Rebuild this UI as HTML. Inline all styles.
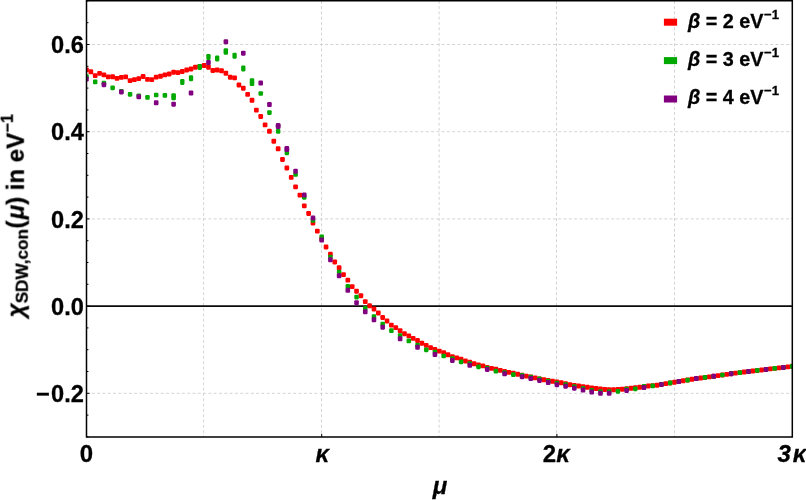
<!DOCTYPE html>
<html><head><meta charset="utf-8"><title>chart</title>
<style>
html,body{margin:0;padding:0;background:#fff;}
body{width:806px;height:500px;position:relative;overflow:hidden;}
svg{display:block}
text{font-family:"Liberation Sans",sans-serif;}
</style></head><body>
<svg width="806" height="500" viewBox="0 0 806 500" style="position:absolute;left:0;top:0"><rect width="806" height="500" fill="#fff"/><defs><clipPath id="cp"><rect x="86.5" y="0.75" width="705.8" height="436.25"/></clipPath></defs><g stroke="#c9c9c9" stroke-width="0.8" stroke-dasharray="3 2.3" fill="none"><line x1="203.60" y1="0.75" x2="203.60" y2="437.0"/><line x1="321.50" y1="0.75" x2="321.50" y2="437.0"/><line x1="439.10" y1="0.75" x2="439.10" y2="437.0"/><line x1="556.50" y1="0.75" x2="556.50" y2="437.0"/><line x1="674.50" y1="0.75" x2="674.50" y2="437.0"/><line x1="86.5" y1="44.50" x2="792.3" y2="44.50"/><line x1="86.5" y1="131.70" x2="792.3" y2="131.70"/><line x1="86.5" y1="218.90" x2="792.3" y2="218.90"/><line x1="86.5" y1="393.30" x2="792.3" y2="393.30"/></g><line x1="86.5" y1="306.10" x2="792.3" y2="306.10" stroke="#0a0a0a" stroke-width="1.55"/><g fill="#ff0000" clip-path="url(#cp)"><rect x="84.15" y="67.45" width="4.7" height="4.9" rx="1.1"/><rect x="88.51" y="69.35" width="4.7" height="4.9" rx="1.1"/><rect x="92.86" y="73.15" width="4.7" height="4.9" rx="1.1"/><rect x="97.22" y="70.95" width="4.7" height="4.9" rx="1.1"/><rect x="101.57" y="72.45" width="4.7" height="4.9" rx="1.1"/><rect x="105.93" y="74.45" width="4.7" height="4.9" rx="1.1"/><rect x="110.28" y="74.35" width="4.7" height="4.9" rx="1.1"/><rect x="114.64" y="75.95" width="4.7" height="4.9" rx="1.1"/><rect x="118.99" y="74.95" width="4.7" height="4.9" rx="1.1"/><rect x="123.35" y="74.45" width="4.7" height="4.9" rx="1.1"/><rect x="127.71" y="78.15" width="4.7" height="4.9" rx="1.1"/><rect x="132.06" y="77.15" width="4.7" height="4.9" rx="1.1"/><rect x="136.42" y="76.15" width="4.7" height="4.9" rx="1.1"/><rect x="140.77" y="74.05" width="4.7" height="4.9" rx="1.1"/><rect x="145.13" y="76.95" width="4.7" height="4.9" rx="1.1"/><rect x="149.48" y="77.15" width="4.7" height="4.9" rx="1.1"/><rect x="153.84" y="74.65" width="4.7" height="4.9" rx="1.1"/><rect x="158.19" y="73.75" width="4.7" height="4.9" rx="1.1"/><rect x="162.55" y="72.45" width="4.7" height="4.9" rx="1.1"/><rect x="166.91" y="71.55" width="4.7" height="4.9" rx="1.1"/><rect x="171.26" y="69.75" width="4.7" height="4.9" rx="1.1"/><rect x="175.62" y="70.15" width="4.7" height="4.9" rx="1.1"/><rect x="179.97" y="69.05" width="4.7" height="4.9" rx="1.1"/><rect x="184.33" y="67.55" width="4.7" height="4.9" rx="1.1"/><rect x="188.68" y="66.55" width="4.7" height="4.9" rx="1.1"/><rect x="193.04" y="64.75" width="4.7" height="4.9" rx="1.1"/><rect x="197.39" y="64.05" width="4.7" height="4.9" rx="1.1"/><rect x="201.75" y="63.05" width="4.7" height="4.9" rx="1.1"/><rect x="206.11" y="64.75" width="4.7" height="4.9" rx="1.1"/><rect x="210.46" y="68.05" width="4.7" height="4.9" rx="1.1"/><rect x="214.82" y="67.55" width="4.7" height="4.9" rx="1.1"/><rect x="219.17" y="68.35" width="4.7" height="4.9" rx="1.1"/><rect x="223.53" y="70.75" width="4.7" height="4.9" rx="1.1"/><rect x="227.88" y="74.75" width="4.7" height="4.9" rx="1.1"/><rect x="232.24" y="75.45" width="4.7" height="4.9" rx="1.1"/><rect x="236.59" y="82.55" width="4.7" height="4.9" rx="1.1"/><rect x="240.95" y="85.75" width="4.7" height="4.9" rx="1.1"/><rect x="245.31" y="91.95" width="4.7" height="4.9" rx="1.1"/><rect x="249.66" y="97.85" width="4.7" height="4.9" rx="1.1"/><rect x="254.02" y="107.65" width="4.7" height="4.9" rx="1.1"/><rect x="258.37" y="114.05" width="4.7" height="4.9" rx="1.1"/><rect x="262.73" y="122.45" width="4.7" height="4.9" rx="1.1"/><rect x="267.08" y="128.85" width="4.7" height="4.9" rx="1.1"/><rect x="271.44" y="138.75" width="4.7" height="4.9" rx="1.1"/><rect x="275.79" y="146.35" width="4.7" height="4.9" rx="1.1"/><rect x="280.15" y="157.05" width="4.7" height="4.9" rx="1.1"/><rect x="284.51" y="165.55" width="4.7" height="4.9" rx="1.1"/><rect x="288.86" y="174.95" width="4.7" height="4.9" rx="1.1"/><rect x="293.22" y="184.45" width="4.7" height="4.9" rx="1.1"/><rect x="297.57" y="192.65" width="4.7" height="4.9" rx="1.1"/><rect x="301.93" y="203.45" width="4.7" height="4.9" rx="1.1"/><rect x="306.28" y="211.05" width="4.7" height="4.9" rx="1.1"/><rect x="310.64" y="220.55" width="4.7" height="4.9" rx="1.1"/><rect x="314.99" y="228.65" width="4.7" height="4.9" rx="1.1"/><rect x="319.35" y="236.55" width="4.7" height="4.9" rx="1.1"/><rect x="323.71" y="244.55" width="4.7" height="4.9" rx="1.1"/><rect x="328.06" y="251.85" width="4.7" height="4.9" rx="1.1"/><rect x="332.42" y="259.55" width="4.7" height="4.9" rx="1.1"/><rect x="336.77" y="265.35" width="4.7" height="4.9" rx="1.1"/><rect x="341.13" y="272.15" width="4.7" height="4.9" rx="1.1"/><rect x="345.48" y="277.65" width="4.7" height="4.9" rx="1.1"/><rect x="349.84" y="284.15" width="4.7" height="4.9" rx="1.1"/><rect x="354.19" y="288.75" width="4.7" height="4.9" rx="1.1"/><rect x="358.55" y="293.25" width="4.7" height="4.9" rx="1.1"/><rect x="362.91" y="299.15" width="4.7" height="4.9" rx="1.1"/><rect x="367.26" y="303.35" width="4.7" height="4.9" rx="1.1"/><rect x="371.62" y="306.55" width="4.7" height="4.9" rx="1.1"/><rect x="375.97" y="310.55" width="4.7" height="4.9" rx="1.1"/><rect x="380.33" y="315.05" width="4.7" height="4.9" rx="1.1"/><rect x="384.68" y="318.55" width="4.7" height="4.9" rx="1.1"/><rect x="389.04" y="322.65" width="4.7" height="4.9" rx="1.1"/><rect x="393.39" y="325.15" width="4.7" height="4.9" rx="1.1"/><rect x="397.75" y="328.25" width="4.7" height="4.9" rx="1.1"/><rect x="402.11" y="331.25" width="4.7" height="4.9" rx="1.1"/><rect x="406.46" y="333.45" width="4.7" height="4.9" rx="1.1"/><rect x="410.82" y="335.95" width="4.7" height="4.9" rx="1.1"/><rect x="415.17" y="338.05" width="4.7" height="4.9" rx="1.1"/><rect x="419.53" y="340.75" width="4.7" height="4.9" rx="1.1"/><rect x="423.88" y="342.95" width="4.7" height="4.9" rx="1.1"/><rect x="428.24" y="345.15" width="4.7" height="4.9" rx="1.1"/><rect x="432.59" y="346.95" width="4.7" height="4.9" rx="1.1"/><rect x="436.95" y="348.65" width="4.7" height="4.9" rx="1.1"/><rect x="441.31" y="350.15" width="4.7" height="4.9" rx="1.1"/><rect x="445.66" y="352.35" width="4.7" height="4.9" rx="1.1"/><rect x="450.02" y="354.15" width="4.7" height="4.9" rx="1.1"/><rect x="454.37" y="355.45" width="4.7" height="4.9" rx="1.1"/><rect x="458.73" y="356.65" width="4.7" height="4.9" rx="1.1"/><rect x="463.08" y="358.55" width="4.7" height="4.9" rx="1.1"/><rect x="467.44" y="359.75" width="4.7" height="4.9" rx="1.1"/><rect x="471.79" y="361.35" width="4.7" height="4.9" rx="1.1"/><rect x="476.15" y="362.55" width="4.7" height="4.9" rx="1.1"/><rect x="480.51" y="363.45" width="4.7" height="4.9" rx="1.1"/><rect x="484.86" y="364.95" width="4.7" height="4.9" rx="1.1"/><rect x="489.22" y="365.95" width="4.7" height="4.9" rx="1.1"/><rect x="493.57" y="366.85" width="4.7" height="4.9" rx="1.1"/><rect x="497.93" y="367.95" width="4.7" height="4.9" rx="1.1"/><rect x="502.28" y="369.05" width="4.7" height="4.9" rx="1.1"/><rect x="506.64" y="369.95" width="4.7" height="4.9" rx="1.1"/><rect x="510.99" y="370.75" width="4.7" height="4.9" rx="1.1"/><rect x="515.35" y="371.75" width="4.7" height="4.9" rx="1.1"/><rect x="519.71" y="372.70" width="4.7" height="4.9" rx="1.1"/><rect x="524.06" y="373.65" width="4.7" height="4.9" rx="1.1"/><rect x="528.42" y="374.55" width="4.7" height="4.9" rx="1.1"/><rect x="532.77" y="375.45" width="4.7" height="4.9" rx="1.1"/><rect x="537.13" y="376.40" width="4.7" height="4.9" rx="1.1"/><rect x="541.48" y="377.35" width="4.7" height="4.9" rx="1.1"/><rect x="545.84" y="378.10" width="4.7" height="4.9" rx="1.1"/><rect x="550.19" y="378.85" width="4.7" height="4.9" rx="1.1"/><rect x="554.55" y="379.60" width="4.7" height="4.9" rx="1.1"/><rect x="558.91" y="380.35" width="4.7" height="4.9" rx="1.1"/><rect x="563.26" y="381.30" width="4.7" height="4.9" rx="1.1"/><rect x="567.62" y="382.25" width="4.7" height="4.9" rx="1.1"/><rect x="571.97" y="382.90" width="4.7" height="4.9" rx="1.1"/><rect x="576.33" y="383.55" width="4.7" height="4.9" rx="1.1"/><rect x="580.68" y="384.15" width="4.7" height="4.9" rx="1.1"/><rect x="585.04" y="384.75" width="4.7" height="4.9" rx="1.1"/><rect x="589.39" y="385.40" width="4.7" height="4.9" rx="1.1"/><rect x="593.75" y="386.05" width="4.7" height="4.9" rx="1.1"/><rect x="598.11" y="386.55" width="4.7" height="4.9" rx="1.1"/><rect x="602.46" y="387.05" width="4.7" height="4.9" rx="1.1"/><rect x="606.82" y="387.20" width="4.7" height="4.9" rx="1.1"/><rect x="611.17" y="387.35" width="4.7" height="4.9" rx="1.1"/><rect x="615.53" y="387.05" width="4.7" height="4.9" rx="1.1"/><rect x="619.88" y="386.75" width="4.7" height="4.9" rx="1.1"/><rect x="624.24" y="386.30" width="4.7" height="4.9" rx="1.1"/><rect x="628.59" y="385.85" width="4.7" height="4.9" rx="1.1"/><rect x="632.95" y="385.35" width="4.7" height="4.9" rx="1.1"/><rect x="637.31" y="384.85" width="4.7" height="4.9" rx="1.1"/><rect x="641.66" y="384.20" width="4.7" height="4.9" rx="1.1"/><rect x="646.02" y="383.55" width="4.7" height="4.9" rx="1.1"/><rect x="650.37" y="383.15" width="4.7" height="4.9" rx="1.1"/><rect x="654.73" y="382.75" width="4.7" height="4.9" rx="1.1"/><rect x="659.08" y="381.94" width="4.7" height="4.9" rx="1.1"/><rect x="663.44" y="381.22" width="4.7" height="4.9" rx="1.1"/><rect x="667.79" y="380.49" width="4.7" height="4.9" rx="1.1"/><rect x="672.15" y="379.77" width="4.7" height="4.9" rx="1.1"/><rect x="676.51" y="379.04" width="4.7" height="4.9" rx="1.1"/><rect x="680.86" y="378.31" width="4.7" height="4.9" rx="1.1"/><rect x="685.22" y="377.59" width="4.7" height="4.9" rx="1.1"/><rect x="689.57" y="376.86" width="4.7" height="4.9" rx="1.1"/><rect x="693.93" y="376.16" width="4.7" height="4.9" rx="1.1"/><rect x="698.28" y="375.58" width="4.7" height="4.9" rx="1.1"/><rect x="702.64" y="375.01" width="4.7" height="4.9" rx="1.1"/><rect x="706.99" y="374.43" width="4.7" height="4.9" rx="1.1"/><rect x="711.35" y="373.85" width="4.7" height="4.9" rx="1.1"/><rect x="715.71" y="373.19" width="4.7" height="4.9" rx="1.1"/><rect x="720.06" y="372.54" width="4.7" height="4.9" rx="1.1"/><rect x="724.42" y="371.89" width="4.7" height="4.9" rx="1.1"/><rect x="728.77" y="371.26" width="4.7" height="4.9" rx="1.1"/><rect x="733.13" y="370.71" width="4.7" height="4.9" rx="1.1"/><rect x="737.48" y="370.16" width="4.7" height="4.9" rx="1.1"/><rect x="741.84" y="369.62" width="4.7" height="4.9" rx="1.1"/><rect x="746.19" y="369.07" width="4.7" height="4.9" rx="1.1"/><rect x="750.55" y="368.55" width="4.7" height="4.9" rx="1.1"/><rect x="754.91" y="368.02" width="4.7" height="4.9" rx="1.1"/><rect x="759.26" y="367.50" width="4.7" height="4.9" rx="1.1"/><rect x="763.62" y="366.97" width="4.7" height="4.9" rx="1.1"/><rect x="767.97" y="366.47" width="4.7" height="4.9" rx="1.1"/><rect x="772.33" y="365.97" width="4.7" height="4.9" rx="1.1"/><rect x="776.68" y="365.47" width="4.7" height="4.9" rx="1.1"/><rect x="781.04" y="364.96" width="4.7" height="4.9" rx="1.1"/><rect x="785.39" y="364.41" width="4.7" height="4.9" rx="1.1"/><rect x="789.75" y="363.85" width="4.7" height="4.9" rx="1.1"/></g><g fill="#00a800" clip-path="url(#cp)"><rect x="84.25" y="74.25" width="4.5" height="4.7" rx="1.1"/><rect x="92.96" y="79.55" width="4.5" height="4.7" rx="1.1"/><rect x="101.67" y="80.85" width="4.5" height="4.7" rx="1.1"/><rect x="110.38" y="85.45" width="4.5" height="4.7" rx="1.1"/><rect x="119.09" y="89.05" width="4.5" height="4.7" rx="1.1"/><rect x="127.81" y="91.95" width="4.5" height="4.7" rx="1.1"/><rect x="136.52" y="93.45" width="4.5" height="4.7" rx="1.1"/><rect x="145.23" y="95.05" width="4.5" height="4.7" rx="1.1"/><rect x="153.94" y="92.65" width="4.5" height="4.7" rx="1.1"/><rect x="162.65" y="93.05" width="4.5" height="4.7" rx="1.1"/><rect x="171.36" y="93.25" width="4.5" height="4.7" rx="1.1"/><rect x="171.36" y="95.55" width="4.5" height="4.7" rx="1.1"/><rect x="249.76" y="78.30" width="4.5" height="4.7" rx="1.1"/><rect x="249.76" y="81.30" width="4.5" height="4.7" rx="1.1"/><rect x="258.47" y="91.15" width="4.5" height="4.7" rx="1.1"/><rect x="267.18" y="110.25" width="4.5" height="4.7" rx="1.1"/><rect x="275.89" y="128.95" width="4.5" height="4.7" rx="1.1"/><rect x="284.61" y="150.45" width="4.5" height="4.7" rx="1.1"/><rect x="293.32" y="172.15" width="4.5" height="4.7" rx="1.1"/><rect x="302.03" y="194.95" width="4.5" height="4.7" rx="1.1"/><rect x="310.74" y="217.95" width="4.5" height="4.7" rx="1.1"/><rect x="319.45" y="234.45" width="4.5" height="4.7" rx="1.1"/><rect x="328.16" y="254.75" width="4.5" height="4.7" rx="1.1"/><rect x="336.87" y="269.65" width="4.5" height="4.7" rx="1.1"/><rect x="345.58" y="284.05" width="4.5" height="4.7" rx="1.1"/><rect x="354.29" y="294.75" width="4.5" height="4.7" rx="1.1"/><rect x="363.01" y="306.05" width="4.5" height="4.7" rx="1.1"/><rect x="371.72" y="314.35" width="4.5" height="4.7" rx="1.1"/><rect x="380.43" y="321.75" width="4.5" height="4.7" rx="1.1"/><rect x="389.14" y="328.35" width="4.5" height="4.7" rx="1.1"/><rect x="397.85" y="333.35" width="4.5" height="4.7" rx="1.1"/><rect x="406.56" y="338.55" width="4.5" height="4.7" rx="1.1"/><rect x="415.27" y="342.85" width="4.5" height="4.7" rx="1.1"/><rect x="423.98" y="347.45" width="4.5" height="4.7" rx="1.1"/><rect x="432.69" y="349.85" width="4.5" height="4.7" rx="1.1"/><rect x="441.41" y="353.65" width="4.5" height="4.7" rx="1.1"/><rect x="450.12" y="356.25" width="4.5" height="4.7" rx="1.1"/><rect x="458.83" y="359.45" width="4.5" height="4.7" rx="1.1"/><rect x="467.54" y="361.25" width="4.5" height="4.7" rx="1.1"/><rect x="476.25" y="364.45" width="4.5" height="4.7" rx="1.1"/><rect x="484.96" y="365.65" width="4.5" height="4.7" rx="1.1"/><rect x="493.67" y="368.85" width="4.5" height="4.7" rx="1.1"/><rect x="502.38" y="370.15" width="4.5" height="4.7" rx="1.1"/><rect x="511.09" y="372.35" width="4.5" height="4.7" rx="1.1"/><rect x="519.81" y="372.95" width="4.5" height="4.7" rx="1.1"/><rect x="528.52" y="374.65" width="4.5" height="4.7" rx="1.1"/><rect x="537.23" y="376.55" width="4.5" height="4.7" rx="1.1"/><rect x="545.94" y="378.65" width="4.5" height="4.7" rx="1.1"/><rect x="554.65" y="380.75" width="4.5" height="4.7" rx="1.1"/><rect x="563.36" y="382.25" width="4.5" height="4.7" rx="1.1"/><rect x="572.07" y="384.25" width="4.5" height="4.7" rx="1.1"/><rect x="580.78" y="386.05" width="4.5" height="4.7" rx="1.1"/><rect x="589.49" y="388.05" width="4.5" height="4.7" rx="1.1"/><rect x="598.21" y="389.25" width="4.5" height="4.7" rx="1.1"/><rect x="606.92" y="389.35" width="4.5" height="4.7" rx="1.1"/><rect x="615.63" y="388.95" width="4.5" height="4.7" rx="1.1"/><rect x="624.34" y="386.85" width="4.5" height="4.7" rx="1.1"/><rect x="633.05" y="386.45" width="4.5" height="4.7" rx="1.1"/><rect x="641.76" y="384.05" width="4.5" height="4.7" rx="1.1"/><rect x="650.47" y="383.45" width="4.5" height="4.7" rx="1.1"/><rect x="659.18" y="382.04" width="4.5" height="4.7" rx="1.1"/><rect x="667.89" y="380.59" width="4.5" height="4.7" rx="1.1"/><rect x="676.61" y="379.14" width="4.5" height="4.7" rx="1.1"/><rect x="685.32" y="377.69" width="4.5" height="4.7" rx="1.1"/><rect x="694.03" y="376.26" width="4.5" height="4.7" rx="1.1"/><rect x="702.74" y="375.11" width="4.5" height="4.7" rx="1.1"/><rect x="711.45" y="373.95" width="4.5" height="4.7" rx="1.1"/><rect x="720.16" y="372.64" width="4.5" height="4.7" rx="1.1"/><rect x="728.87" y="371.36" width="4.5" height="4.7" rx="1.1"/><rect x="737.58" y="370.26" width="4.5" height="4.7" rx="1.1"/><rect x="746.29" y="369.17" width="4.5" height="4.7" rx="1.1"/><rect x="755.01" y="368.12" width="4.5" height="4.7" rx="1.1"/><rect x="763.72" y="367.07" width="4.5" height="4.7" rx="1.1"/><rect x="772.43" y="366.07" width="4.5" height="4.7" rx="1.1"/><rect x="781.14" y="365.06" width="4.5" height="4.7" rx="1.1"/><rect x="789.85" y="363.95" width="4.5" height="4.7" rx="1.1"/></g><g fill="#00a800" clip-path="url(#cp)"><rect x="180.17" y="79.05" width="4.3" height="5.9" rx="1.1"/><rect x="188.88" y="75.30" width="4.3" height="5.9" rx="1.1"/><rect x="197.59" y="64.05" width="4.3" height="5.9" rx="1.1"/><rect x="206.31" y="54.05" width="4.3" height="5.9" rx="1.1"/><rect x="215.02" y="55.55" width="4.3" height="5.9" rx="1.1"/><rect x="223.73" y="48.20" width="4.3" height="5.9" rx="1.1"/><rect x="223.73" y="48.90" width="4.3" height="5.9" rx="1.1"/><rect x="232.44" y="52.80" width="4.3" height="5.9" rx="1.1"/><rect x="241.15" y="65.55" width="4.3" height="5.9" rx="1.1"/></g><g fill="#800080" clip-path="url(#cp)"><rect x="84.20" y="76.60" width="4.6" height="5.0" rx="1.1"/><rect x="101.62" y="82.20" width="4.6" height="5.0" rx="1.1"/><rect x="119.04" y="89.40" width="4.6" height="5.0" rx="1.1"/><rect x="136.47" y="94.30" width="4.6" height="5.0" rx="1.1"/><rect x="153.89" y="100.30" width="4.6" height="5.0" rx="1.1"/><rect x="171.31" y="101.70" width="4.6" height="5.0" rx="1.1"/><rect x="188.73" y="90.50" width="4.6" height="5.0" rx="1.1"/><rect x="206.16" y="60.00" width="4.6" height="5.0" rx="1.1"/><rect x="223.58" y="39.30" width="4.6" height="5.0" rx="1.1"/><rect x="241.00" y="50.70" width="4.6" height="5.0" rx="1.1"/><rect x="258.42" y="80.60" width="4.6" height="5.0" rx="1.1"/><rect x="267.13" y="102.10" width="4.6" height="5.0" rx="1.1"/><rect x="275.84" y="123.10" width="4.6" height="5.0" rx="1.1"/><rect x="275.84" y="124.10" width="4.6" height="5.0" rx="1.1"/><rect x="284.56" y="146.00" width="4.6" height="5.0" rx="1.1"/><rect x="284.56" y="147.00" width="4.6" height="5.0" rx="1.1"/><rect x="293.27" y="168.70" width="4.6" height="5.0" rx="1.1"/><rect x="301.98" y="192.50" width="4.6" height="5.0" rx="1.1"/><rect x="310.69" y="215.60" width="4.6" height="5.0" rx="1.1"/><rect x="319.40" y="237.60" width="4.6" height="5.0" rx="1.1"/><rect x="328.11" y="257.30" width="4.6" height="5.0" rx="1.1"/><rect x="336.82" y="273.30" width="4.6" height="5.0" rx="1.1"/><rect x="345.53" y="287.80" width="4.6" height="5.0" rx="1.1"/><rect x="354.24" y="300.20" width="4.6" height="5.0" rx="1.1"/><rect x="362.96" y="309.30" width="4.6" height="5.0" rx="1.1"/><rect x="371.67" y="317.30" width="4.6" height="5.0" rx="1.1"/><rect x="380.38" y="324.70" width="4.6" height="5.0" rx="1.1"/><rect x="397.80" y="336.30" width="4.6" height="5.0" rx="1.1"/><rect x="415.22" y="344.80" width="4.6" height="5.0" rx="1.1"/><rect x="432.64" y="352.00" width="4.6" height="5.0" rx="1.1"/><rect x="450.07" y="357.90" width="4.6" height="5.0" rx="1.1"/><rect x="467.49" y="362.80" width="4.6" height="5.0" rx="1.1"/><rect x="484.91" y="366.90" width="4.6" height="5.0" rx="1.1"/><rect x="502.33" y="371.30" width="4.6" height="5.0" rx="1.1"/><rect x="519.76" y="374.20" width="4.6" height="5.0" rx="1.1"/><rect x="528.47" y="376.00" width="4.6" height="5.0" rx="1.1"/><rect x="537.18" y="377.90" width="4.6" height="5.0" rx="1.1"/><rect x="545.89" y="380.00" width="4.6" height="5.0" rx="1.1"/><rect x="554.60" y="382.20" width="4.6" height="5.0" rx="1.1"/><rect x="563.31" y="383.70" width="4.6" height="5.0" rx="1.1"/><rect x="572.02" y="385.70" width="4.6" height="5.0" rx="1.1"/><rect x="580.73" y="387.60" width="4.6" height="5.0" rx="1.1"/><rect x="589.44" y="389.60" width="4.6" height="5.0" rx="1.1"/><rect x="598.16" y="390.80" width="4.6" height="5.0" rx="1.1"/><rect x="606.87" y="390.80" width="4.6" height="5.0" rx="1.1"/><rect x="624.29" y="387.90" width="4.6" height="5.0" rx="1.1"/><rect x="641.71" y="385.10" width="4.6" height="5.0" rx="1.1"/><rect x="659.13" y="381.89" width="4.6" height="5.0" rx="1.1"/><rect x="676.56" y="378.99" width="4.6" height="5.0" rx="1.1"/><rect x="693.98" y="376.11" width="4.6" height="5.0" rx="1.1"/><rect x="711.40" y="373.80" width="4.6" height="5.0" rx="1.1"/><rect x="728.82" y="371.21" width="4.6" height="5.0" rx="1.1"/><rect x="746.24" y="369.02" width="4.6" height="5.0" rx="1.1"/><rect x="763.67" y="366.92" width="4.6" height="5.0" rx="1.1"/><rect x="781.09" y="364.91" width="4.6" height="5.0" rx="1.1"/></g><rect x="86.5" y="0.75" width="705.8" height="436.25" fill="none" stroke="#000" stroke-width="1.5"/><g stroke="#000" stroke-width="1"><line x1="86.5" y1="436.90" x2="88.45" y2="436.90"/><line x1="86.5" y1="415.10" x2="88.45" y2="415.10"/><line x1="86.5" y1="393.30" x2="89.55" y2="393.30"/><line x1="86.5" y1="371.50" x2="88.45" y2="371.50"/><line x1="86.5" y1="349.70" x2="88.45" y2="349.70"/><line x1="86.5" y1="327.90" x2="88.45" y2="327.90"/><line x1="86.5" y1="306.10" x2="89.55" y2="306.10"/><line x1="86.5" y1="284.30" x2="88.45" y2="284.30"/><line x1="86.5" y1="262.50" x2="88.45" y2="262.50"/><line x1="86.5" y1="240.70" x2="88.45" y2="240.70"/><line x1="86.5" y1="218.90" x2="89.55" y2="218.90"/><line x1="86.5" y1="197.10" x2="88.45" y2="197.10"/><line x1="86.5" y1="175.30" x2="88.45" y2="175.30"/><line x1="86.5" y1="153.50" x2="88.45" y2="153.50"/><line x1="86.5" y1="131.70" x2="89.55" y2="131.70"/><line x1="86.5" y1="109.90" x2="88.45" y2="109.90"/><line x1="86.5" y1="88.10" x2="88.45" y2="88.10"/><line x1="86.5" y1="66.30" x2="88.45" y2="66.30"/><line x1="86.5" y1="44.50" x2="89.55" y2="44.50"/><line x1="86.5" y1="22.70" x2="88.45" y2="22.70"/><line x1="86.5" y1="0.90" x2="88.45" y2="0.90"/><line x1="321.70" y1="437.0" x2="321.70" y2="433.85"/><line x1="556.90" y1="437.0" x2="556.90" y2="433.85"/></g><rect x="663.9" y="18.70" width="13.2" height="7" fill="#ff0000"/><rect x="663.9" y="57.10" width="13.2" height="7" fill="#00a800"/><rect x="663.9" y="95.50" width="13.2" height="7" fill="#800080"/><g font-family="Liberation Sans, sans-serif" font-weight="bold" fill="#000" stroke="#000" stroke-width="0.3" opacity="0.999"><text x="83.90" y="53.10" font-size="23.6" text-anchor="end" >0.6</text><text x="83.90" y="140.30" font-size="23.6" text-anchor="end" >0.4</text><text x="83.90" y="227.50" font-size="23.6" text-anchor="end" >0.2</text><text x="83.90" y="314.70" font-size="23.6" text-anchor="end" >0.0</text><text x="83.90" y="401.90" font-size="23.6" text-anchor="end" >&#8722;<tspan dx="1.3">0.2</tspan></text><text x="86.40" y="461.80" font-size="24" text-anchor="middle" >0</text><text x="322.30" y="461.60" font-size="24" text-anchor="middle" ><tspan font-style="italic">&#954;</tspan></text><text x="556.30" y="461.60" font-size="24" text-anchor="middle" >2<tspan font-style="italic">&#954;</tspan></text><text x="777.60" y="461.60" font-size="24" text-anchor="start" ><tspan font-style="italic">3</tspan><tspan font-style="italic" dx="1.8">&#954;</tspan></text><text x="440.10" y="494.10" font-size="24" text-anchor="middle" ><tspan font-style="italic">&#956;</tspan></text><text x="688.00" y="27.50" font-size="19.8" text-anchor="start" ><tspan font-style="italic">&#946;</tspan> = 2 eV<tspan font-size="13.2" dx="0.5" dy="-8.9">&#8722;1</tspan></text><text x="688.00" y="65.90" font-size="19.8" text-anchor="start" ><tspan font-style="italic">&#946;</tspan> = 3 eV<tspan font-size="13.2" dx="0.5" dy="-8.9">&#8722;1</tspan></text><text x="688.00" y="104.30" font-size="19.8" text-anchor="start" ><tspan font-style="italic">&#946;</tspan> = 4 eV<tspan font-size="13.2" dx="0.5" dy="-8.9">&#8722;1</tspan></text><g transform="translate(23.75,317.3) rotate(-90)"><text x="0" y="0" font-size="24"><tspan font-style="italic">&#967;</tspan><tspan font-size="17.2" dx="0" dy="4.3">SDW,con</tspan><tspan dx="0.4" dy="-4.3">(</tspan><tspan dx="1.2" font-style="italic">&#956;</tspan>) in eV<tspan font-size="16" dx="0.4" dy="-11.3">&#8722;1</tspan></text></g></g></svg>
</body></html>
